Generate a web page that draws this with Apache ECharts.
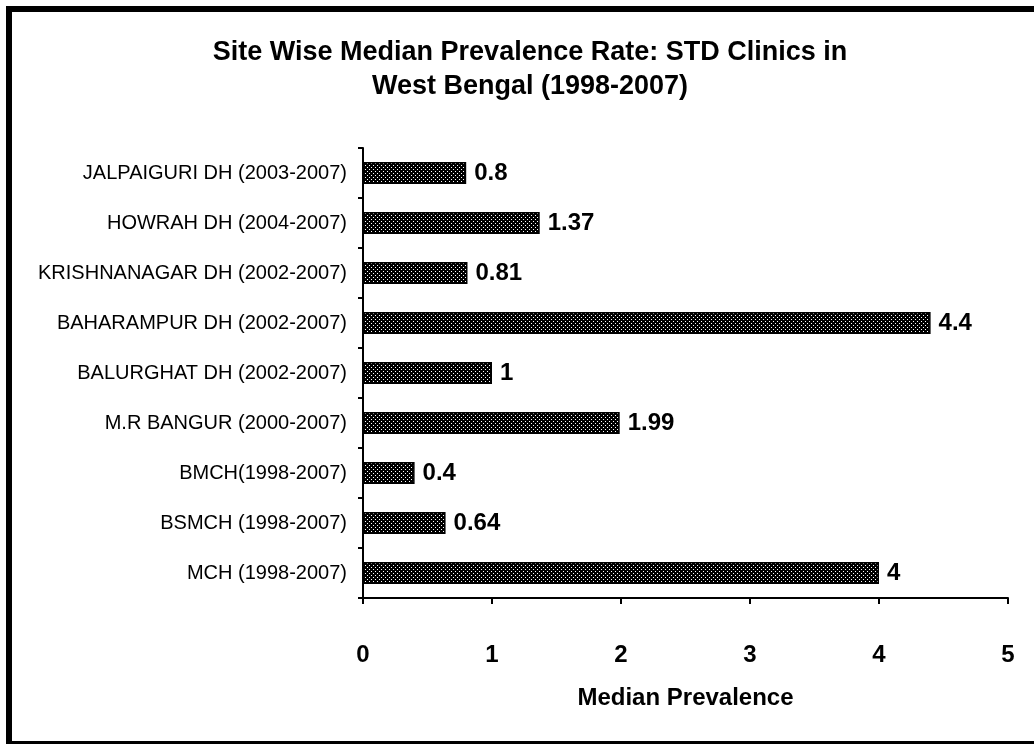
<!DOCTYPE html>
<html><head><meta charset="utf-8">
<script src="https://cdn.jsdelivr.net/npm/echarts@6/dist/echarts.min.js"></script>
<style>html,body{margin:0;padding:0;background:#fff}#c{width:1034px;height:744px}</style>
</head><body><div id="c"></div>
<script>
const categories = ["JALPAIGURI DH (2003-2007)","HOWRAH DH (2004-2007)","KRISHNANAGAR DH (2002-2007)","BAHARAMPUR DH (2002-2007)","BALURGHAT DH (2002-2007)","M.R BANGUR (2000-2007)","BMCH(1998-2007)","BSMCH (1998-2007)","MCH (1998-2007)"];
const values = [0.8, 1.37, 0.81, 4.4, 1, 1.99, 0.4, 0.64, 4];
const xTicks = [0, 1, 2, 3, 4, 5];

const pc = document.createElement('canvas');
pc.width = 4; pc.height = 4;
const g = pc.getContext('2d');
g.fillStyle = '#000'; g.fillRect(0,0,4,4);
g.fillStyle = '#fff'; g.fillRect(1,1,1,1); g.fillRect(3,3,1,1);

const font = 'Liberation Sans, Arial, sans-serif';
const chart = echarts.init(document.getElementById('c'));
chart.setOption({
  animation: false,
  backgroundColor: '#fff',
  title: {
    text: 'Site Wise Median Prevalence Rate: STD Clinics in\nWest Bengal (1998-2007)',
    left: 525, top: 31, textAlign: 'center',
    textStyle: {fontFamily: font, fontSize: 27, fontWeight: 'bold', color: '#000', lineHeight: 34}
  },
  graphic: [{type: 'rect', shape: {x: 9, y: 9, width: 1040, height: 735}, style: {fill: 'none', stroke: '#000', lineWidth: 6}, z: 100}],
  grid: {left: 363, right: 26, top: 148, bottom: 146},
  xAxis: {
    type: 'value', min: xTicks[0], max: xTicks[xTicks.length-1], interval: 1,
    splitLine: {show: false},
    axisLine: {show: true, lineStyle: {color: '#000', width: 2}},
    axisTick: {show: true, length: 6, lineStyle: {color: '#000', width: 2}},
    axisLabel: {margin: 45, fontFamily: font, fontSize: 24, fontWeight: 'bold', color: '#000'},
    name: 'Median Prevalence', nameLocation: 'middle', nameGap: 88,
    nameTextStyle: {fontFamily: font, fontSize: 24, fontWeight: 'bold', color: '#000'}
  },
  yAxis: {
    type: 'category', data: categories, inverse: true,
    axisLine: {show: true, lineStyle: {color: '#000', width: 2}},
    axisTick: {show: true, length: 5, lineStyle: {color: '#000', width: 2}},
    axisLabel: {margin: 16, fontFamily: font, fontSize: 20, color: '#000'}
  },
  series: [{
    type: 'bar', data: values, barWidth: 22,
    itemStyle: {color: {image: pc, repeat: 'repeat'}, borderColor: '#000', borderWidth: 1.5},
    label: {show: true, position: 'right', distance: 8, fontFamily: font, fontSize: 24, fontWeight: 'bold', color: '#000'}
  }]
});
</script></body></html>
